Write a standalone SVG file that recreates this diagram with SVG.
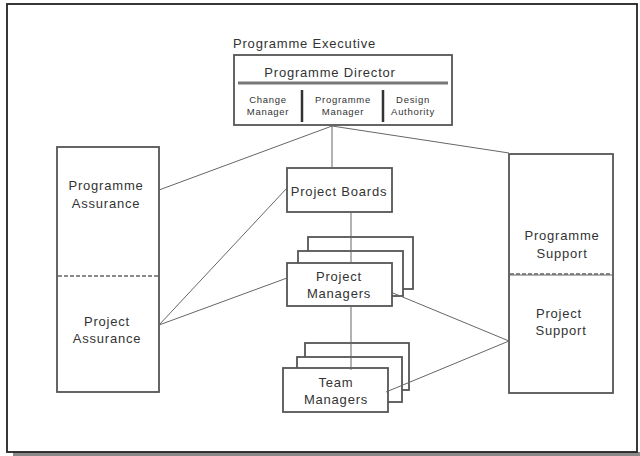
<svg xmlns="http://www.w3.org/2000/svg" width="640" height="456" viewBox="0 0 640 456">
  <style>
    .box { fill: #fff; stroke: #555; stroke-width: 1.8; }
    .lbl { font-family: "Liberation Sans", Arial, sans-serif; font-size: 13px; letter-spacing: 0.8px; fill: #333; text-anchor: middle; }
    .sm { font-size: 9.5px; letter-spacing: 0.7px; }
    .conn { stroke: #666; stroke-width: 1; fill: none; }
    .div { stroke: #666; stroke-width: 1.5; stroke-dasharray: 4 2; }
  </style>

  <!-- page frame with drop shadow -->
  <rect x="0" y="0" width="640" height="456" fill="#fff"/>
  <rect x="13" y="452" width="627" height="4" fill="#8a8a8a"/>
  <rect x="7" y="4" width="630" height="448" fill="#fff" stroke="#222" stroke-width="1.8"/>

  <g id="programme-executive">
    <text class="lbl" x="233" y="48" style="text-anchor:start">Programme Executive</text>
    <rect class="box" x="234" y="55" width="218" height="70" stroke="#444" stroke-width="2"/>
    <text class="lbl" x="330" y="77">Programme Director</text>
    <line x1="238" y1="83" x2="448" y2="83" stroke="#777" stroke-width="3"/>
    <line x1="302" y1="90" x2="302" y2="122" stroke="#333" stroke-width="2.5"/>
    <line x1="383" y1="90" x2="383" y2="122" stroke="#333" stroke-width="2.5"/>
    <text class="lbl sm" x="268" y="103">Change</text>
    <text class="lbl sm" x="268" y="115">Manager</text>
    <text class="lbl sm" x="343" y="103">Programme</text>
    <text class="lbl sm" x="343" y="115">Manager</text>
    <text class="lbl sm" x="413" y="103">Design</text>
    <text class="lbl sm" x="413" y="115">Authority</text>
  </g>

  <g id="assurance">
    <rect class="box" x="57" y="147" width="102" height="245"/>
    <line class="div" x1="58" y1="276" x2="158" y2="276"/>
    <text class="lbl" x="106" y="190">Programme</text>
    <text class="lbl" x="106" y="208">Assurance</text>
    <text class="lbl" x="107" y="326">Project</text>
    <text class="lbl" x="107" y="343">Assurance</text>
  </g>

  <g id="support">
    <rect class="box" x="509" y="154" width="104" height="239"/>
    <line x1="510" y1="275" x2="612" y2="275" stroke="#666" stroke-width="1"/>
    <line class="div" x1="510" y1="274" x2="612" y2="274" stroke-width="1"/>
    <text class="lbl" x="562" y="240">Programme</text>
    <text class="lbl" x="562" y="258">Support</text>
    <text class="lbl" x="559" y="318">Project</text>
    <text class="lbl" x="561" y="335">Support</text>
  </g>

  <g id="project-boards">
    <rect class="box" x="287" y="168" width="105" height="44"/>
    <text class="lbl" x="339" y="196">Project Boards</text>
  </g>

  <g id="project-managers">
    <rect class="box" x="308" y="237" width="105" height="52"/>
    <rect class="box" x="298" y="251" width="105" height="45"/>
    <rect class="box" x="287" y="263" width="105" height="43"/>
    <text class="lbl" x="339" y="281">Project</text>
    <text class="lbl" x="339" y="298">Managers</text>
  </g>

  <g id="team-managers">
    <rect class="box" x="305" y="343" width="104" height="47"/>
    <rect class="box" x="297" y="357" width="105" height="45"/>
    <rect class="box" x="283" y="368" width="105" height="44"/>
    <text class="lbl" x="336" y="387">Team</text>
    <text class="lbl" x="336" y="404">Managers</text>
  </g>

  <g id="connectors">
    <line class="conn" x1="332" y1="125" x2="332" y2="168" stroke-width="1.3"/>
    <line class="conn" x1="332" y1="126" x2="159" y2="190"/>
    <line class="conn" x1="332" y1="126" x2="509" y2="153"/>
    <line class="conn" x1="351" y1="212" x2="351" y2="263" stroke-width="1.3"/>
    <line class="conn" x1="351" y1="306" x2="351" y2="370" stroke-width="1.3"/>
    <line class="conn" x1="287" y1="188" x2="159" y2="325"/>
    <line class="conn" x1="287" y1="278" x2="159" y2="325"/>
    <line class="conn" x1="393" y1="293" x2="509" y2="341"/>
    <line class="conn" x1="386" y1="392" x2="509" y2="341"/>
  </g>
</svg>
